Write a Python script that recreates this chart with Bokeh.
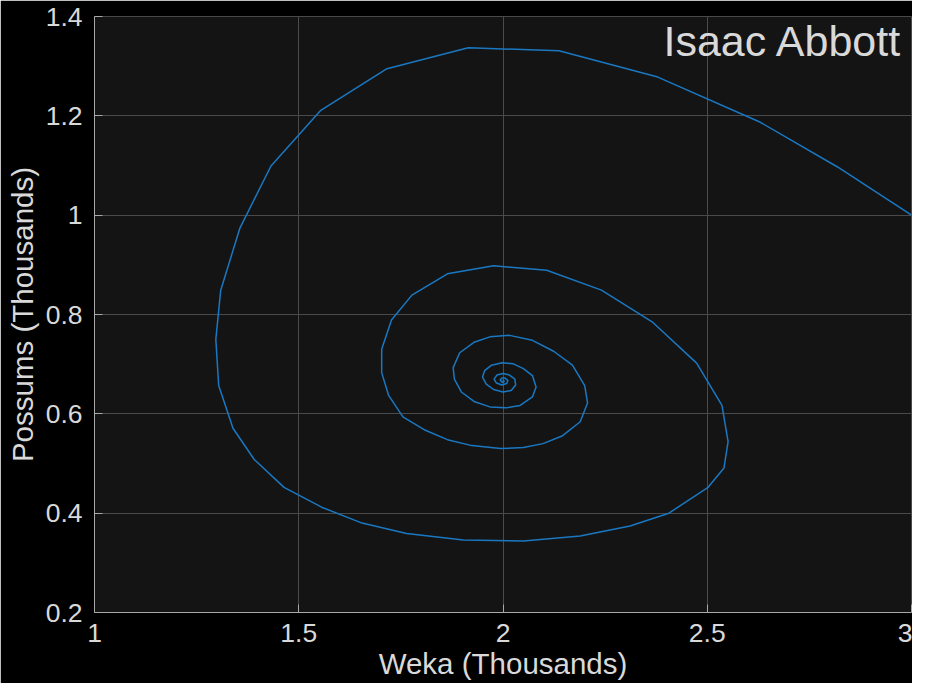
from bokeh.plotting import figure
from bokeh.models import Label, FixedTicker, Range1d
from bokeh.embed import file_html
from bokeh.resources import INLINE

# Trajectory (thousands): Weka (x) vs Possums (y)
weka = [3.000, 2.819, 2.630, 2.379, 2.137, 1.915, 1.716, 1.554, 1.432, 1.356,
        1.309, 1.297, 1.304, 1.339, 1.391, 1.464, 1.556, 1.655, 1.764, 1.903,
        2.050, 2.189, 2.311, 2.406, 2.502, 2.541, 2.551, 2.536, 2.474, 2.367,
        2.241, 2.107, 1.977, 1.864, 1.777, 1.727, 1.703, 1.703, 1.720, 1.755,
        1.807, 1.864, 1.924, 1.994, 2.050, 2.098, 2.146, 2.189, 2.207, 2.200,
        2.170, 2.124, 2.072, 2.016, 1.968, 1.929, 1.894, 1.878, 1.881, 1.898,
        1.929, 1.968, 2.007, 2.042, 2.072, 2.081, 2.072, 2.050, 2.024, 1.998,
        1.972, 1.955, 1.950, 1.959, 1.977, 2.000, 2.020, 2.031, 2.029, 2.016,
        2.000, 1.985, 1.978, 1.984, 1.997, 2.009, 2.012, 2.005, 1.997, 1.993,
        1.998, 2.003, 2.001, 1.999, 2.000]
possums = [1.000, 1.097, 1.187, 1.278, 1.331, 1.337, 1.295, 1.211, 1.099, 0.974,
           0.849, 0.750, 0.657, 0.571, 0.508, 0.452, 0.412, 0.380, 0.359, 0.346,
           0.344, 0.354, 0.374, 0.400, 0.452, 0.491, 0.544, 0.617, 0.702, 0.784,
           0.849, 0.889, 0.898, 0.882, 0.839, 0.789, 0.730, 0.683, 0.637, 0.594,
           0.568, 0.548, 0.536, 0.530, 0.532, 0.540, 0.556, 0.584, 0.622, 0.657,
           0.698, 0.726, 0.748, 0.758, 0.755, 0.744, 0.723, 0.693, 0.670, 0.644,
           0.625, 0.614, 0.612, 0.617, 0.634, 0.654, 0.677, 0.691, 0.701, 0.703,
           0.698, 0.687, 0.674, 0.660, 0.649, 0.644, 0.647, 0.658, 0.670, 0.678,
           0.681, 0.678, 0.670, 0.662, 0.658, 0.661, 0.667, 0.672, 0.672, 0.668,
           0.663, 0.665, 0.668, 0.667, 0.667]

x_ticks = [1, 1.5, 2, 2.5, 3]
y_ticks = [0.2, 0.4, 0.6, 0.8, 1.0, 1.2, 1.4]
title_text = "Isaac Abbott"
x_label = "Weka (Thousands)"
y_label = "Possums (Thousands)"

FONT = "Liberation Sans"
TXT = "#d9d9d9"

p = figure(width=912, height=683, output_backend="svg", toolbar_location=None,
           x_range=Range1d(1, 3), y_range=Range1d(0.2, 1.4),
           min_border_left=94, min_border_right=1, min_border_top=16,
           min_border_bottom=71)
p.background_fill_color = "#141414"
p.border_fill_color = "#000000"
p.outline_line_color = None

p.line(weka, possums, line_color="#1a78c2", line_width=1.5)

for ax, ticks in ((p.xaxis[0], x_ticks), (p.yaxis[0], y_ticks)):
    ax.ticker = FixedTicker(ticks=ticks)
    ax.major_tick_in = 8
    ax.major_tick_out = 0
    ax.minor_tick_in = 0
    ax.minor_tick_out = 0
    ax.axis_line_color = "#a8a8a8"
    ax.major_tick_line_color = "#a8a8a8"
    ax.major_label_text_color = TXT
    ax.major_label_text_font = FONT
    ax.major_label_text_font_size = "26.5px"
    ax.axis_label_text_color = TXT
    ax.axis_label_text_font = FONT
    ax.axis_label_text_font_size = "29.5px"
    ax.axis_label_text_font_style = "normal"

p.xaxis[0].axis_label = x_label
p.yaxis[0].axis_label = y_label
p.xaxis[0].major_label_standoff = 11
p.xaxis[0].axis_label_standoff = 2
p.yaxis[0].major_label_standoff = 12
p.yaxis[0].axis_label_standoff = 4
p.xaxis[0].major_label_overrides = {1: "1", 1.5: "1.5", 2: "2", 2.5: "2.5", 3: "3"}
p.yaxis[0].major_label_overrides = {0.2: "0.2", 0.4: "0.4", 0.6: "0.6", 0.8: "0.8",
                                    1.0: "1", 1.2: "1.2", 1.4: "1.4"}

p.xgrid.grid_line_color = "#4a4a4a"
p.ygrid.grid_line_color = "#4a4a4a"
p.xgrid.grid_line_width = 1
p.ygrid.grid_line_width = 1

p.add_layout(Label(x=3, y=1.4, text=title_text, text_align="right",
                   text_baseline="top", x_offset=-9, y_offset=0,
                   text_color=TXT, text_font=FONT, text_font_size="43px"))

open("out.html", "w").write(file_html(p, INLINE))
